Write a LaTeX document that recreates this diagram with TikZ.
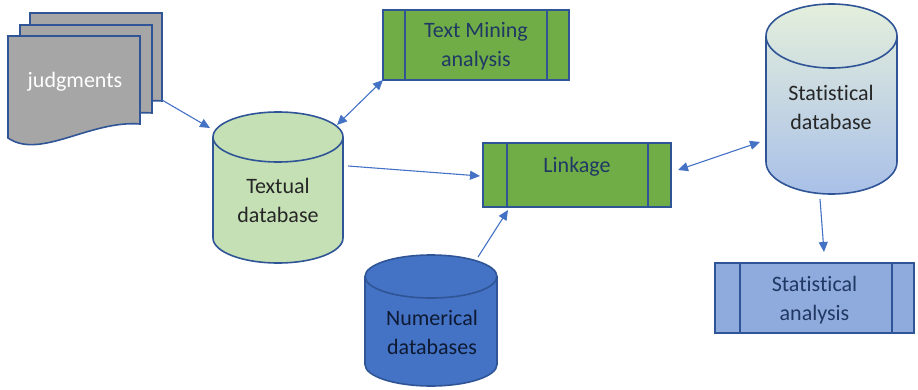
\documentclass[tikz,border=0pt]{standalone}
\usepackage{fontspec}
\setmainfont{Carlito}[Ligatures=NoCommon]
\usetikzlibrary{arrows.meta}
\definecolor{edge}{HTML}{2F5597}
\definecolor{arrowc}{HTML}{4472C4}
\definecolor{grn}{HTML}{70AD47}
\definecolor{navy}{HTML}{1F3864}
\definecolor{txtdb}{HTML}{C5E0B4}
\definecolor{numdb}{HTML}{4472C4}
\definecolor{numtxt}{HTML}{0E1A33}
\definecolor{statan}{HTML}{8FAADC}
\definecolor{docgray}{HTML}{A6A6A6}
\definecolor{sdtop}{HTML}{E4EFDC}
\definecolor{sdmid}{HTML}{D3E6C3}
\definecolor{sdbot}{HTML}{A9C0E8}
\begin{document}
\begin{tikzpicture}[x=1pt,y=1pt,
  outl/.style={draw=edge,line width=1.6pt},
  conn/.style={draw=arrowc,line width=1.1pt,-{Triangle[length=10pt,width=9pt]}},
  bconn/.style={draw=arrowc,line width=1.1pt,{Triangle[length=10pt,width=9pt]}-{Triangle[length=10pt,width=9pt]}},
  lbl/.style={font=\fontsize{22}{29}\selectfont, align=center, inner sep=0pt},
  procbox/.style={outl, rectangle, inner sep=0pt}
]
\useasboundingbox (0,0) rectangle (918,389);

% judgments document stack
\foreach \dx/\dy in {22/23,12/11,0/0}{
  \filldraw[outl, fill=docgray, shift={(\dx,\dy)}]
    (8,353) -- (140,353) -- (140,265) .. controls (90,269) and (40,229) .. (8,251) -- cycle;
}
\node[lbl, text=white] (judg) at (75,307) {judgments};

% Textual database
\filldraw[outl, fill=txtdb] (213,252) -- (213,151)
  arc[start angle=180,end angle=360,x radius=65,y radius=25] -- (343,252)
  arc[start angle=0,end angle=180,x radius=65,y radius=25] -- cycle;
\draw[outl] (343,252) arc[start angle=0,end angle=-180,x radius=65,y radius=25];
\node[lbl, text=black!85] (txt) at (278,189) {Textual\\database};

% Numerical databases
\filldraw[outl, fill=numdb] (365,112.5) -- (365,24.5)
  arc[start angle=180,end angle=360,x radius=66,y radius=21.5] -- (497,112.5)
  arc[start angle=0,end angle=180,x radius=66,y radius=21.5] -- cycle;
\draw[outl] (497,112.5) arc[start angle=0,end angle=-180,x radius=66,y radius=21.5];
\node[lbl, text=numtxt] (num) at (432,57) {Numerical\\databases};

% Statistical database
\shade[top color=sdtop, middle color=sdmid, bottom color=sdbot] (766,353) -- (766,227)
  arc[start angle=180,end angle=360,x radius=65.5,y radius=32] -- (897,353)
  arc[start angle=0,end angle=180,x radius=65.5,y radius=32] -- cycle;
\draw[outl] (766,353) -- (766,227)
  arc[start angle=180,end angle=360,x radius=65.5,y radius=32] -- (897,353)
  arc[start angle=0,end angle=180,x radius=65.5,y radius=32] -- cycle;
\draw[outl] (897,353) arc[start angle=0,end angle=-180,x radius=65.5,y radius=32];
\node[lbl, text=black!85] (sdb) at (831,282) {Statistical\\database};

% Text Mining analysis box
\node[procbox, fill=grn, minimum width=186pt, minimum height=70pt] (tm) at (476,344) {};
\draw[outl] ([xshift=23pt]tm.north west) -- ([xshift=23pt]tm.south west);
\draw[outl] ([xshift=-23pt]tm.north east) -- ([xshift=-23pt]tm.south east);
\node[lbl, text=navy] (tmt) at (476,343) {Text Mining\\analysis};

% Linkage box
\node[procbox, fill=grn, minimum width=188pt, minimum height=64pt] (lk) at (577,214) {};
\draw[outl] ([xshift=25pt]lk.north west) -- ([xshift=25pt]lk.south west);
\draw[outl] ([xshift=-24pt]lk.north east) -- ([xshift=-24pt]lk.south east);
\node[lbl, text=navy] (lkt) at (577,222) {Linkage};

% Statistical analysis box
\node[procbox, fill=statan, minimum width=199pt, minimum height=70pt] (sa) at (814.5,91) {};
\draw[outl] ([xshift=26pt]sa.north west) -- ([xshift=26pt]sa.south west);
\draw[outl] ([xshift=-23pt]sa.north east) -- ([xshift=-23pt]sa.south east);
\node[lbl, text=navy] (sat) at (814.5,89) {Statistical\\analysis};

% connector end points
\coordinate (judgout) at (162,289);
\coordinate (txtin) at (210,261);
\coordinate (txtup) at (337,264);
\coordinate (tmin) at (383,309);
\coordinate (txtright) at (348,223);
\coordinate (lkleft) at (480,213);
\coordinate (numtop) at (478,132);
\coordinate (lkbottom) at (508,179);
\coordinate (lkright) at (678,219);
\coordinate (sdbleft) at (760,247);
\coordinate (sdbbottom) at (820,190);
\coordinate (satop) at (824,137);

\draw[conn] (judgout) -- (txtin);
\draw[bconn] (txtup) -- (tmin);
\draw[conn] (txtright) -- (lkleft);
\draw[conn] (numtop) -- (lkbottom);
\draw[bconn] (lkright) -- (sdbleft);
\draw[conn] (sdbbottom) -- (satop);
\end{tikzpicture}
\end{document}
